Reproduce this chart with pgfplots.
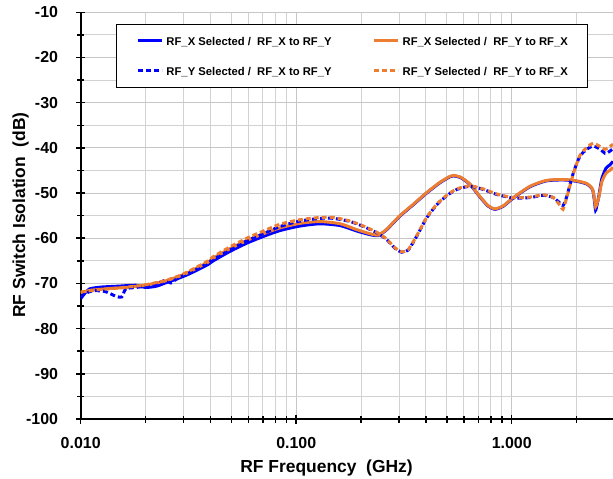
\documentclass[border=0pt]{standalone}
\usepackage{fontspec}
\setmainfont{Liberation Sans}
\usepackage{pgfplots}
\pgfplotsset{compat=1.18}
\definecolor{xblue}{RGB}{0,0,255}
\definecolor{xorange}{RGB}{237,125,49}

\begin{document}
\begin{tikzpicture}
\begin{axis}[
  name=ax,
  scale only axis,
  width=532.3bp, height=406.7bp,
  xmode=log, log basis x=10,
  xmin=0.01, xmax=2.951,
  ymin=-100, ymax=-10,
  axis x line*=bottom, axis y line*=left,
  axis line style={black, line width=2bp},
  xtick={0.01,0.1,1}, xticklabels={0.010,0.100,1.000},
  minor xtick={0.02,0.03,0.04,0.05,0.06,0.07,0.08,0.09,0.2,0.3,0.4,0.5,0.6,0.7,0.8,0.9,2},
  ytick={-100,-90,-80,-70,-60,-50,-40,-30,-20,-10},
  yticklabels={-100,-90,-80,-70,-60,-50,-40,-30,-20,-10},
  minor ytick={-95,-85,-75,-65,-55,-45,-35,-25,-15},
  grid=both,
  major grid style={gray!45, line width=1bp},
  minor grid style={gray!35, line width=1bp},
  tick align=center,
  major tick length=9bp, minor tick length=7bp,
  every tick/.style={black, line width=1.5bp},
  ticklabel style={font=\fontsize{16}{18}\selectfont\bfseries, inner sep=0pt},
  xticklabel shift=14bp,
  yticklabel shift=18bp,
  xlabel={RF Frequency\ \ (GHz)},
  ylabel={RF Switch Isolation\ \ (dB)},
  label style={font=\fontsize{17.5}{20}\selectfont\bfseries, inner sep=0pt},
  xlabel style={at={(axis description cs:0.4618,0)}, anchor=north, yshift=-41bp},
  ylabel style={at={(axis description cs:-0.1046,0.5016)}, anchor=base},
  legend columns=2,
  legend cell align=left,
  legend style={at={(0.0663,0.9705)}, anchor=north west, draw=black, line width=1bp, fill=white,
    inner xsep=20bp, inner ysep=7.95bp, row sep=13.5bp,
    font=\fontsize{11.3}{13}\selectfont\bfseries,
    nodes={inner sep=0pt, text height=12.3bp, text depth=4.2bp},
    /tikz/every odd column/.append style={column sep=3bp},
    /tikz/every even column/.append style={column sep=41bp}},
  legend image code/.code={\draw[#1] (0bp,0bp) -- (24bp,0bp);},
]
\addplot[xblue, line width=3bp, smooth, tension=0.4] table {
0.0100 -73.4
0.0104 -72.3
0.0110 -71.2
0.0125 -70.8
0.0150 -70.6
0.0180 -70.4
0.0200 -70.9
0.0225 -70.6
0.0250 -69.8
0.0283 -68.9
0.0315 -68.0
0.0345 -67.1
0.0390 -65.8
0.0412 -65.0
0.0493 -62.9
0.0589 -61.1
0.0704 -59.6
0.0841 -58.3
0.104 -57.3
0.129 -56.8
0.160 -57.2
0.191 -58.4
0.220 -59.2
0.240 -59.4
0.263 -58.1
0.303 -55.1
0.349 -52.6
0.403 -50.0
0.465 -47.7
0.517 -46.4
0.536 -46.2
0.580 -46.6
0.640 -48.1
0.713 -50.9
0.778 -52.9
0.837 -53.6
0.915 -52.9
1.017 -51.1
1.216 -48.6
1.45 -47.3
1.74 -47.1
2.00 -47.4
2.23 -48.0
2.37 -49.2
2.42 -51.7
2.45 -53.8
2.49 -52.5
2.54 -50.5
2.62 -46.8
2.74 -44.5
2.85 -43.8
2.95 -43.0
};
\addlegendentry{RF\_X Selected /\ \ RF\_X to RF\_Y}
\addplot[xorange, line width=3bp, smooth, tension=0.4] table {
0.0100 -72.0
0.0112 -71.5
0.0139 -71.1
0.0162 -70.9
0.0198 -70.4
0.0245 -69.5
0.0283 -68.5
0.0315 -67.6
0.0345 -66.6
0.0390 -65.3
0.0412 -64.4
0.0493 -62.3
0.0589 -60.5
0.0704 -59.0
0.0841 -57.7
0.104 -56.7
0.129 -56.3
0.160 -56.8
0.191 -58.1
0.220 -59.0
0.240 -59.3
0.263 -58.0
0.303 -55.0
0.349 -52.5
0.403 -49.9
0.465 -47.6
0.517 -46.3
0.536 -46.1
0.580 -46.5
0.640 -48.0
0.713 -50.8
0.778 -52.8
0.837 -53.5
0.915 -52.8
1.017 -51.0
1.216 -48.5
1.45 -47.2
1.74 -47.0
2.00 -47.3
2.23 -47.9
2.37 -49.1
2.42 -51.3
2.45 -53.0
2.49 -52.2
2.54 -50.8
2.62 -47.5
2.74 -45.6
2.85 -45.0
2.95 -44.3
};
\addlegendentry{RF\_X Selected /\ \ RF\_Y to RF\_X}
\addplot[xblue, line width=3bp, dash pattern=on 5bp off 3bp, smooth, tension=0.4] table {
0.0100 -73.0
0.0105 -72.2
0.0115 -71.6
0.0130 -71.8
0.0145 -72.8
0.0155 -73.0
0.0162 -71.2
0.0180 -70.9
0.0200 -70.6
0.0230 -70.0
0.0245 -69.3
0.0262 -69.9
0.0270 -69.5
0.0283 -68.8
0.0315 -67.8
0.0345 -66.9
0.0390 -65.5
0.0412 -64.7
0.0493 -62.6
0.0589 -60.6
0.0704 -59.0
0.0841 -57.4
0.104 -56.2
0.129 -55.6
0.149 -55.6
0.178 -56.3
0.205 -57.4
0.237 -58.8
0.263 -60.3
0.287 -62.2
0.309 -63.1
0.331 -62.6
0.362 -59.6
0.403 -55.5
0.449 -52.6
0.499 -50.6
0.556 -49.2
0.640 -48.5
0.738 -49.2
0.851 -50.3
1.017 -51.1
1.216 -51.0
1.40 -50.5
1.56 -51.0
1.68 -52.3
1.73 -52.8
1.80 -50.8
1.93 -45.6
2.07 -41.9
2.23 -40.3
2.39 -39.6
2.57 -40.3
2.71 -41.2
2.80 -41.0
2.95 -40.2
};
\addlegendentry{RF\_Y Selected /\ \ RF\_X to RF\_Y}
\addplot[xorange, line width=3bp, dash pattern=on 5bp off 3bp, smooth, tension=0.4] table {
0.0100 -71.9
0.0120 -71.4
0.0150 -71.0
0.0180 -70.6
0.0200 -70.3
0.0245 -69.4
0.0283 -68.4
0.0315 -67.4
0.0345 -66.4
0.0390 -65.0
0.0412 -64.1
0.0493 -61.9
0.0589 -60.0
0.0704 -58.4
0.0841 -56.9
0.104 -55.9
0.129 -55.4
0.149 -55.4
0.178 -56.2
0.205 -57.3
0.237 -58.7
0.263 -60.2
0.287 -62.1
0.309 -63.0
0.331 -62.5
0.362 -59.5
0.403 -55.4
0.449 -52.5
0.499 -50.5
0.556 -49.1
0.640 -48.4
0.738 -49.1
0.851 -50.2
1.017 -51.0
1.216 -50.9
1.40 -50.4
1.56 -51.0
1.68 -52.8
1.73 -53.6
1.80 -51.0
1.93 -45.8
2.07 -41.7
2.23 -39.9
2.39 -39.0
2.57 -39.7
2.71 -40.3
2.80 -40.0
2.95 -39.2
};
\addlegendentry{RF\_Y Selected /\ \ RF\_Y to RF\_X}
\end{axis}
\pgfresetboundingbox
\path[use as bounding box] ([xshift=-80.7bp,yshift=-60bp]ax.south west) rectangle ([yshift=12.3bp]ax.north east);
\end{tikzpicture}
\end{document}
